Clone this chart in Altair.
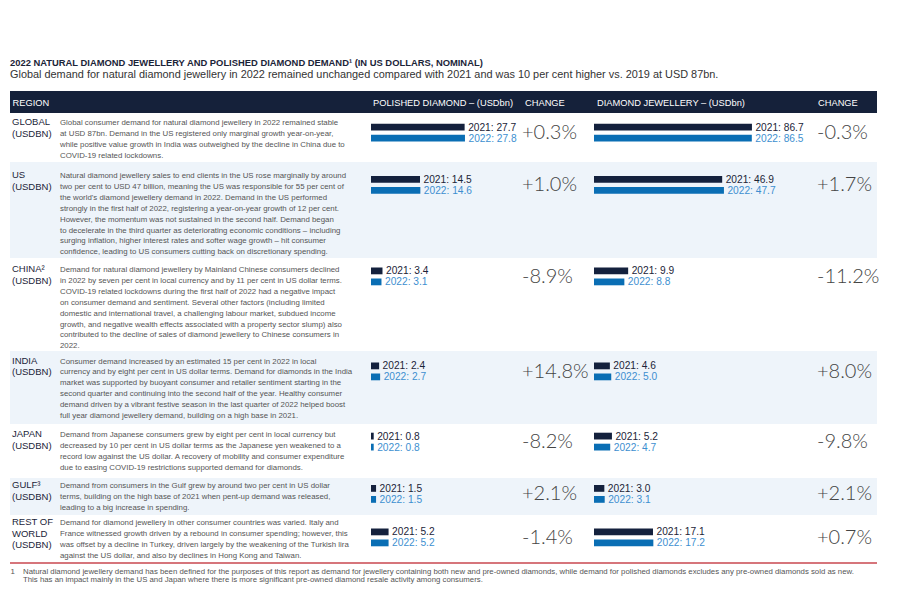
import altair as alt
import pandas as pd

# ---------------- data ----------------
regions = ["GLOBAL", "US", "CHINA", "INDIA", "JAPAN", "GULF", "REST OF WORLD"]
region_labels = [
    ["GLOBAL", "(USDBN)"],
    ["US", "(USDBN)"],
    ["CHINA²", "(USDBN)"],
    ["INDIA", "(USDBN)"],
    ["JAPAN", "(USDBN)"],
    ["GULF³", "(USDBN)"],
    ["REST OF", "WORLD", "(USDBN)"],
]
descriptions = [
    ["Global consumer demand for natural diamond jewellery in 2022 remained stable",
     "at USD 87bn. Demand in the US registered only marginal growth year-on-year,",
     "while positive value growth in India was outweighed by the decline in China due to",
     "COVID-19 related lockdowns."],
    ["Natural diamond jewellery sales to end clients in the US rose marginally by around",
     "two per cent to USD 47 billion, meaning the US was responsible for 55 per cent of",
     "the world's diamond jewellery demand in 2022. Demand in the US performed",
     "strongly in the first half of 2022, registering a year-on-year growth of 12 per cent.",
     "However, the momentum was not sustained in the second half. Demand began",
     "to decelerate in the third quarter as deteriorating economic conditions – including",
     "surging inflation, higher interest rates and softer wage growth – hit consumer",
     "confidence, leading to US consumers cutting back on discretionary spending."],
    ["Demand for natural diamond jewellery by Mainland Chinese consumers declined",
     "in 2022 by seven per cent in local currency and by 11 per cent in US dollar terms.",
     "COVID-19 related lockdowns during the first half of 2022 had a negative impact",
     "on consumer demand and sentiment. Several other factors (including limited",
     "domestic and international travel, a challenging labour market, subdued income",
     "growth, and negative wealth effects associated with a property sector slump) also",
     "contributed to the decline of sales of diamond jewellery to Chinese consumers in",
     "2022."],
    ["Consumer demand increased by an estimated 15 per cent in 2022 in local",
     "currency and by eight per cent in US dollar terms. Demand for diamonds in the India",
     "market was supported by buoyant consumer and retailer sentiment starting in the",
     "second quarter and continuing into the second half of the year. Healthy consumer",
     "demand driven by a vibrant festive season in the last quarter of 2022 helped boost",
     "full year diamond jewellery demand, building on a high base in 2021."],
    ["Demand from Japanese consumers grew by eight per cent in local currency but",
     "decreased by 10 per cent in US dollar terms as the Japanese yen weakened to a",
     "record low against the US dollar. A recovery of mobility and consumer expenditure",
     "due to easing COVID-19 restrictions supported demand for diamonds."],
    ["Demand from consumers in the Gulf grew by around two per cent in US dollar",
     "terms, building on the high base of 2021 when pent-up demand was released,",
     "leading to a big increase in spending."],
    ["Demand for diamond jewellery in other consumer countries was varied. Italy and",
     "France witnessed growth driven by a rebound in consumer spending; however, this",
     "was offset by a decline in Turkey, driven largely by the weakening of the Turkish lira",
     "against the US dollar, and also by declines in Hong Kong and Taiwan."],
]
years = ["2021", "2022"]
pol_2021 = [27.7, 14.5, 3.4, 2.4, 0.8, 1.5, 5.2]
pol_2022 = [27.8, 14.6, 3.1, 2.7, 0.8, 1.5, 5.2]
pol_change = ["+0.3%", "+1.0%", "-8.9%", "+14.8%", "-8.2%", "+2.1%", "-1.4%"]
jew_2021 = [86.7, 46.9, 9.9, 4.6, 5.2, 3.0, 17.1]
jew_2022 = [86.5, 47.7, 8.8, 5.0, 4.7, 3.1, 17.2]
jew_change = ["-0.3%", "+1.7%", "-11.2%", "+8.0%", "-9.8%", "+2.1%", "+0.7%"]

title_text = "2022 NATURAL DIAMOND JEWELLERY AND POLISHED DIAMOND DEMAND¹ (IN US DOLLARS, NOMINAL)"
subtitle_text = ("Global demand for natural diamond jewellery in 2022 remained unchanged compared "
                 "with 2021 and was 10 per cent higher vs. 2019 at USD 87bn.")
header_labels = ["REGION", "POLISHED DIAMOND – (USDbn)", "CHANGE", "DIAMOND JEWELLERY – (USDbn)", "CHANGE"]
footnote_lines = [
    "Natural diamond jewellery demand has been defined for the purposes of this report as demand for jewellery "
    "containing both new and pre-owned diamonds, while demand for polished diamonds excludes any pre-owned diamonds sold as new.",
    "This has an impact mainly in the US and Japan where there is more significant pre-owned diamond resale activity among consumers.",
]

# ---------------- style / layout ----------------
NAVY = "#14213d"
BLUE = "#0a6eb4"
BLUE_TXT = "#3d8fd0"
LIGHT = "#eef4fa"
INK = "#1b2438"
GREY = "#555555"
RED = "#c9474f"
FONT = "Liberation Sans"
LIGHTFONT = "Lato"

W = 891
HEAD_H = 105
row_heights = [49, 96, 93, 73, 54, 37, 47]
first_base = [12, 16, 14, 12.5, 13, 10, 10]
bar_top = [10.7, 14, 9.5, 11.5, 8.7, 7, 13.5]
FOOT_H = 576 - HEAD_H - sum(row_heights)

X_REGION, X_DESC = 4, 52
X_POL, X_POL_CHG, X_JEW, X_JEW_CHG = 363, 514, 586, 809

pol_scale = alt.Scale(domain=[0, 30], range=[X_POL, X_POL + 101.4], nice=False, zero=False)
jew_scale = alt.Scale(domain=[0, 20, 50, 90],
                      range=[X_JEW, X_JEW + 69, X_JEW + 135, X_JEW + 160], nice=False, zero=False)


def one(**kw):
    return pd.DataFrame({k: [v] for k, v in kw.items()})


# ---------------- header ----------------
head_layers = [
    alt.Chart(one(t=title_text)).mark_text(
        align="left", baseline="alphabetic", font=FONT, fontWeight="bold", fontSize=9.4, color=INK
    ).encode(x=alt.value(2), y=alt.value(57.5), text="t:N"),
    alt.Chart(one(t=subtitle_text)).mark_text(
        align="left", baseline="alphabetic", font=FONT, fontSize=10.9, color="#333333"
    ).encode(x=alt.value(2), y=alt.value(69.5), text="t:N"),
    alt.Chart(one(t="")).mark_rect(color="#15213a").encode(
        x=alt.value(2), x2=alt.value(869), y=alt.value(83), y2=alt.value(105)),
]
for lbl, xx in zip(header_labels, [4.5, 365, 517, 589, 810]):
    head_layers.append(
        alt.Chart(one(t=lbl)).mark_text(
            align="left", baseline="alphabetic", font=FONT, fontSize=9.3, color="white"
        ).encode(x=alt.value(xx), y=alt.value(98), text="t:N"))
head = alt.layer(*head_layers).properties(width=W, height=HEAD_H)


# ---------------- rows ----------------
def row_chart(i):
    h = row_heights[i]
    info = one(label="\n".join(region_labels[i]), desc="\n".join(descriptions[i]),
               pc=pol_change[i], jc=jew_change[i])
    bg = alt.Chart(info).mark_rect(color=LIGHT if i % 2 else "#ffffff").encode(
        x=alt.value(2), x2=alt.value(869), y=alt.value(0), y2=alt.value(h))
    lab = alt.Chart(info).mark_text(
        align="left", baseline="alphabetic", font=FONT, fontSize=9.5, lineHeight=11.7,
        lineBreak="\n", color=INK
    ).encode(x=alt.value(X_REGION), y=alt.value(first_base[i]), text="label:N")
    desc = alt.Chart(info).mark_text(
        align="left", baseline="alphabetic", font=FONT, fontSize=7.85, lineHeight=10.9,
        lineBreak="\n", color=GREY
    ).encode(x=alt.value(X_DESC), y=alt.value(first_base[i]), text="desc:N")
    chg_y = bar_top[i] + 15
    pc = alt.Chart(info).mark_text(
        align="left", baseline="alphabetic", font=LIGHTFONT, fontWeight=300, fontSize=20, color="#444444"
    ).encode(x=alt.value(X_POL_CHG), y=alt.value(chg_y), text="pc:N")
    jc = alt.Chart(info).mark_text(
        align="left", baseline="alphabetic", font=LIGHTFONT, fontWeight=300, fontSize=20, color="#444444"
    ).encode(x=alt.value(X_JEW_CHG), y=alt.value(chg_y), text="jc:N")

    bars = pd.DataFrame({
        "year": years,
        "pol": [pol_2021[i], pol_2022[i]],
        "jew": [jew_2021[i], jew_2022[i]],
    })
    bars["pol_lbl"] = [f"{y}: {v:.1f}" for y, v in zip(years, bars["pol"])]
    bars["jew_lbl"] = [f"{y}: {v:.1f}" for y, v in zip(years, bars["jew"])]

    t = bar_top[i]
    yenc = alt.Y("year:N", axis=None,
                 scale=alt.Scale(domain=years, range=[t, t + 17.8], paddingInner=0.382, paddingOuter=0))
    cenc = alt.Color("year:N", legend=None, scale=alt.Scale(domain=years, range=[NAVY, BLUE]))
    tcol = alt.condition(alt.datum.year == "2021", alt.value(INK), alt.value(BLUE_TXT))

    base = alt.Chart(bars)
    pol = alt.layer(
        base.mark_bar().encode(x=alt.X("pol:Q", scale=pol_scale, axis=None), y=yenc, color=cenc),
        base.mark_text(align="left", baseline="middle", dx=3.5, dy=0.5, font=FONT, fontSize=10.2).encode(
            x=alt.X("pol:Q", scale=pol_scale, axis=None), y=yenc, text="pol_lbl:N", color=tcol),
    )
    jew = alt.layer(
        base.mark_bar().encode(x=alt.X("jew:Q", scale=jew_scale, axis=None), y=yenc, color=cenc),
        base.mark_text(align="left", baseline="middle", dx=3.5, dy=0.5, font=FONT, fontSize=10.2).encode(
            x=alt.X("jew:Q", scale=jew_scale, axis=None), y=yenc, text="jew_lbl:N", color=tcol),
    )
    return alt.layer(bg, lab, desc, pc, jc, pol, jew).resolve_scale(
        x="independent").properties(width=W, height=h)


rows = [row_chart(i) for i in range(len(regions))]

# ---------------- footer ----------------
foot = alt.layer(
    alt.Chart(one(t="")).mark_rule(color=RED, strokeWidth=1.5).encode(
        x=alt.value(2), x2=alt.value(869), y=alt.value(1)),
    alt.Chart(one(t="1")).mark_text(
        align="left", baseline="alphabetic", font=FONT, fontSize=7.8, color=GREY
    ).encode(x=alt.value(2.5), y=alt.value(11.5), text="t:N"),
    alt.Chart(one(t="\n".join(footnote_lines))).mark_text(
        align="left", baseline="alphabetic", font=FONT, fontSize=7.8, lineHeight=8.8, lineBreak="\n", color=GREY
    ).encode(x=alt.value(15), y=alt.value(11.5), text="t:N"),
).properties(width=W, height=FOOT_H)

chart = alt.vconcat(head, *rows, foot, spacing=0, bounds="flush").properties(
    padding=0, background="white"
).configure_view(strokeWidth=0)

chart.save("out.html", embed_options={"renderer": "svg", "actions": False})
